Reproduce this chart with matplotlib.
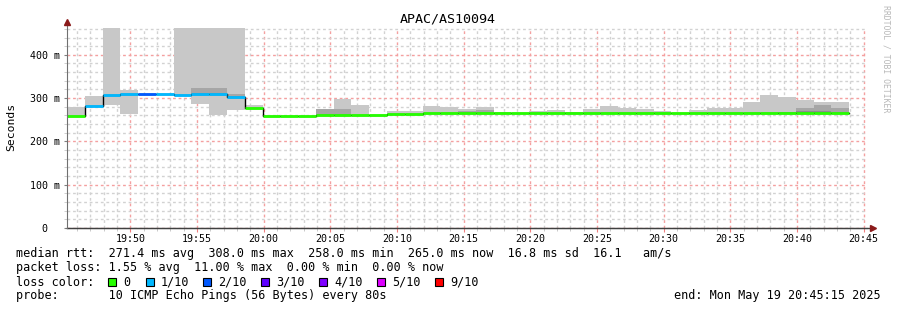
import numpy as np
import matplotlib
matplotlib.use("Agg")
import matplotlib.pyplot as plt
from matplotlib.patches import Rectangle

# ---------------- data ----------------
title = "APAC/AS10094"
probe_interval_s = 80
# median rtt per 80 s step (ms), starting 19:45:15
median_ms = [259, 281, 307, 309, 309, 309, 308, 309, 309, 302,
             277, 258, 258, 259, 260, 261, 261, 262, 264, 264,
             265, 265, 265, 265, 265, 265, 265, 265, 265, 265,
             265, 265, 265, 265, 265, 265, 265, 265, 265, 265,
             265, 265, 265, 265]
# lost pings out of 10 per step
loss = [0, 1, 1, 1, 2, 1, 1, 1, 1, 1,
        0, 0, 0, 0, 0, 0, 0, 0, 0, 0,
        0, 0, 0, 0, 0, 0, 0, 0, 0, 0,
        0, 0, 0, 0, 0, 0, 0, 0, 0, 0,
        0, 0, 0, 0]
# light smoke range (ms)
smoke_lo = [259, 281, 284, 263, 309, 309, 304, 287, 260, 273,
            277, 258, 258, 259, 259, 260, 260, 262, 263, 263,
            264, 264, 264, 264, 264, 265, 264, 264, 264, 264,
            264, 264, 264, 264, 264, 264, 264, 264, 264, 264,
            264, 264, 264, 264]
smoke_hi = [280, 305, 465, 318, 309, 309, 465, 465, 465, 465,
            284, 258, 258, 259, 276, 298, 284, 262, 271, 270,
            281, 279, 274, 279, 267, 265, 270, 272, 267, 274,
            281, 277, 274, 270, 266, 272, 277, 277, 291, 307,
            302, 295, 291, 291]
# darker (denser) smoke range (ms)
dark_lo = [0, 0, 0, 0, 0, 0, 0, 309, 309, 302,
           0, 0, 0, 0, 260, 261, 0, 0, 0, 0,
           0, 0, 265, 265, 0, 0, 0, 0, 0, 0,
           0, 0, 0, 0, 0, 0, 0, 0, 0, 0,
           265, 265, 265, 265]
dark_hi = [0, 0, 0, 0, 0, 0, 0, 323, 323, 309,
           0, 0, 0, 0, 276, 276, 0, 0, 0, 0,
           0, 0, 270, 272, 0, 0, 0, 0, 0, 0,
           0, 0, 0, 0, 0, 0, 0, 0, 0, 0,
           269, 277, 284, 277]
# darkest core (ms)
core_lo = [0] * 41 + [266, 266, 0]
core_hi = [0] * 41 + [270, 270, 0]

loss_labels = ["0", "1/10", "2/10", "3/10", "4/10", "5/10", "9/10"]
loss_levels = [0, 1, 2, 3, 4, 5, 9]
loss_colors = ["#26ff00", "#00b8ff", "#0059ff", "#5e00ff", "#7e00ff", "#dd00ff", "#ff0000"]

x_tick_labels = ["19:50", "19:55", "20:00", "20:05", "20:10", "20:15", "20:20",
                 "20:25", "20:30", "20:35", "20:40", "20:45"]
first_tick_offset_min = 4.75   # 19:50 relative to start 19:45:15
y_ticks_ms = [0, 100, 200, 300, 400]

legend_lines = [
    "median rtt:  271.4 ms avg  308.0 ms max  258.0 ms min  265.0 ms now  16.8 ms sd  16.1   am/s",
    "packet loss: 1.55 % avg  11.00 % max  0.00 % min  0.00 % now",
    "loss color:",
    "probe:       10 ICMP Echo Pings (56 Bytes) every 80s",
]
end_text = "end: Mon May 19 20:45:15 2025"
watermark = "RRDTOOL / TOBI OETIKER"

# ---------------- figure ----------------
W, H = 897, 310
fig = plt.figure(figsize=(W / 100, H / 100), dpi=100)
fig.patch.set_facecolor("white")
ax = fig.add_axes([67 / W, 82 / H, 800 / W, 200 / H])
ax.set_facecolor("white")

mono = "DejaVu Sans Mono"
n = len(median_ms)
dt = probe_interval_s / 60.0
t = np.arange(n) * dt

med = np.array(median_ms, float)
lo = np.array(smoke_lo, float); hi = np.array(smoke_hi, float)
dlo = np.array(dark_lo, float); dhi = np.array(dark_hi, float)
clo = np.array(core_lo, float); chi = np.array(core_hi, float)

ax.bar(t, hi - lo, bottom=lo, width=dt, align="edge", color="#c8c8c8", linewidth=0, zorder=2)
m = dhi > 0
ax.bar(t[m], (dhi - dlo)[m], bottom=dlo[m], width=dt, align="edge", color="#a6a6a6", linewidth=0, zorder=3)
m = chi > 0
ax.bar(t[m], (chi - clo)[m], bottom=clo[m], width=dt, align="edge", color="#8c8c8c", linewidth=0, zorder=3)

# black connecting step line
ax.step(np.append(t, t[-1] + dt), np.append(med, med[-1]), where="post",
        color="black", lw=1.0, zorder=4)
cmap = dict(zip(loss_levels, loss_colors))
ax.hlines(med, t, t + dt, colors=[cmap[l] for l in loss], lw=2.0, zorder=5)

ax.set_xlim(0, 60)
ax.set_ylim(0, 462)

major_x = first_tick_offset_min + 5 * np.arange(len(x_tick_labels))
minor_x = np.arange(first_tick_offset_min - 4, 60, 1.0)
ax.set_xticks(major_x)
ax.set_xticklabels(x_tick_labels, family=mono, fontsize=7.2)
ax.set_xticks(minor_x, minor=True)
ax.set_yticks(y_ticks_ms)
ax.set_yticklabels([("%d m" % v) if v else "0  " for v in y_ticks_ms], family=mono, fontsize=7.2)
ax.set_yticks(np.arange(20, 462, 20), minor=True)

ax.grid(which="minor", color="#d2d2d2", ls=(0, (2, 2)), lw=1.0, zorder=1)
ax.grid(which="major", color="#f4a0a0", ls=(0, (2, 2)), lw=1.0, zorder=1)
ax.tick_params(axis="x", which="major", length=3, color="#f08080", pad=1.5)
ax.tick_params(axis="x", which="minor", length=2, color="#c0c0c0")
ax.tick_params(axis="y", which="major", length=2, color="#808080", pad=3)
ax.tick_params(axis="y", which="minor", length=2, color="#c8c8c8")
ax.set_axisbelow(True)

for s in ("top", "right"):
    ax.spines[s].set_visible(False)
ax.spines["left"].set_color("#707070")
ax.spines["bottom"].set_color("#404040")
ax.spines["left"].set_bounds(0, 462 * 1.03)
ax.spines["left"].set_zorder(6)
ax.plot([0], [1.03], marker="^", color="#8b1a1a", ms=4.5, transform=ax.transAxes, clip_on=False, zorder=7)
ax.plot([1.0075], [0], marker=">", color="#8b1a1a", ms=4.5, transform=ax.transAxes, clip_on=False, zorder=7)
ax.plot([0, 1.005], [0, 0], color="#404040", lw=1, transform=ax.transAxes, clip_on=False, zorder=6)

def fx(px):
    return px / W

def fy(py):
    return 1 - py / H

fig.text(fx(448), fy(19), title, family=mono, fontsize=9.6, ha="center", va="center")
fig.text(fx(11), fy(127), "Seconds", family=mono, fontsize=8.2, rotation=90, ha="center", va="center")
fig.text(fx(886), fy(5), watermark, family=mono, fontsize=5.9, rotation=270,
         ha="center", va="top", color="#b8b8b8")

rows_y = [254, 268, 282, 296]
for line, y in zip(legend_lines, rows_y):
    fig.text(fx(16), fy(y), line, family=mono, fontsize=8.5, ha="left", va="center")
fig.text(fx(881), fy(296), end_text, family=mono, fontsize=8.5, ha="right", va="center")

box_x = [108, 146, 203, 261, 319, 377, 435]
for bx, lab, col in zip(box_x, loss_labels, loss_colors):
    fig.patches.append(Rectangle((fx(bx), fy(286)), 8 / W, 8 / H, transform=fig.transFigure,
                                 facecolor=col, edgecolor="black", lw=0.8))
    fig.text(fx(bx + 15), fy(282), lab, family=mono, fontsize=8.5, ha="left", va="center")

fig.savefig("out.png", dpi=100, facecolor="white")
